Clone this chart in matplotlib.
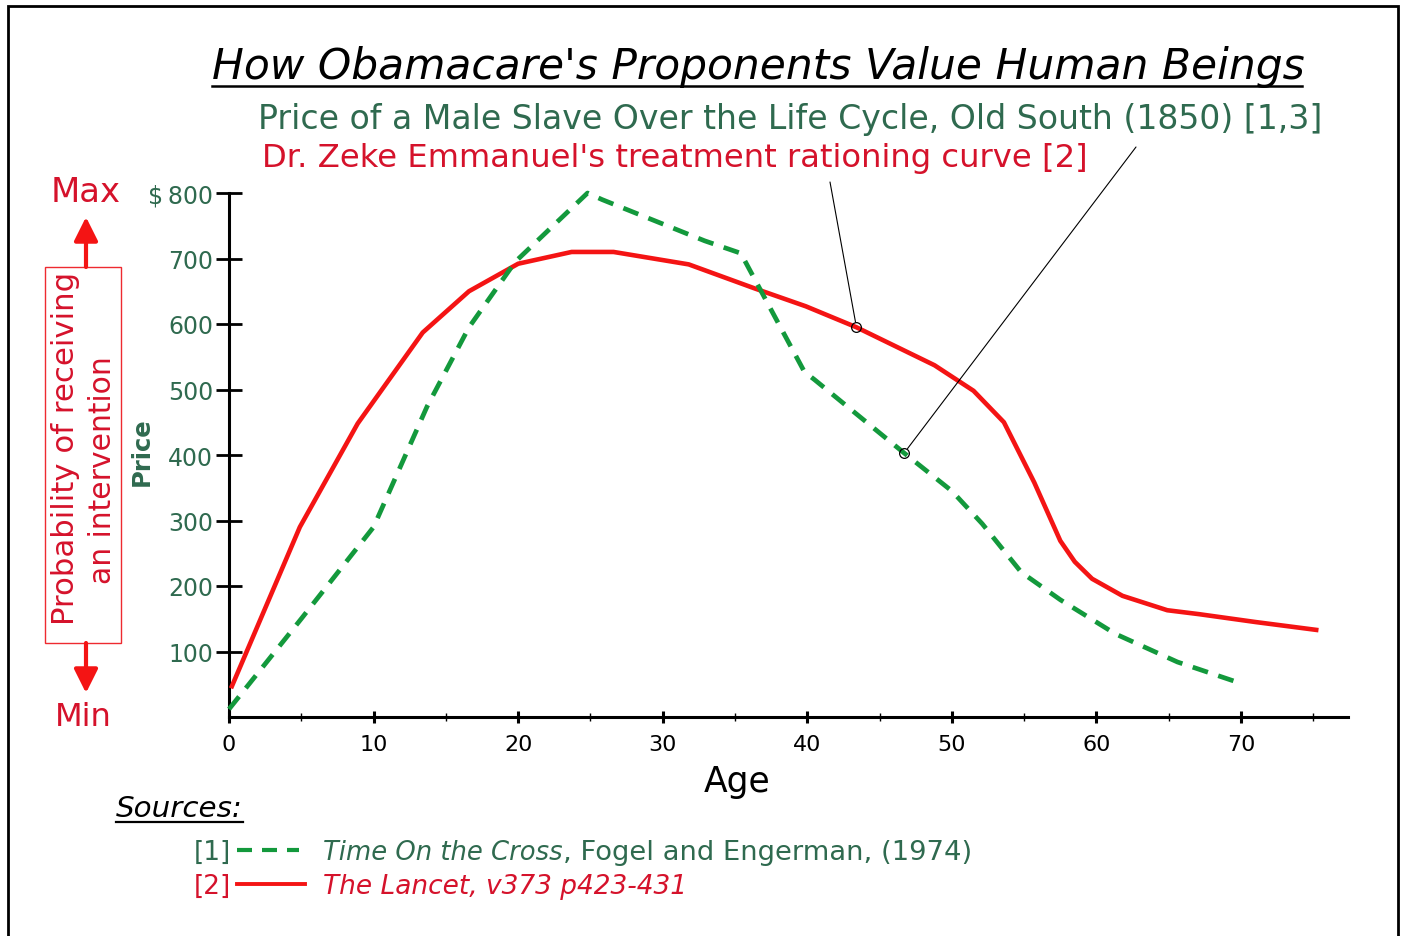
import matplotlib
matplotlib.use('Agg')
import matplotlib.pyplot as plt
from matplotlib.patches import Rectangle, FancyArrowPatch, ArrowStyle
from matplotlib.lines import Line2D

# ---------------- data ----------------
age_slave = [0, 5, 10, 13.7, 16.6, 19.8, 24.8, 25.8, 32.9, 35.4, 39.8, 40.5,
             46.7, 50.0, 52.1, 54.8, 57.5, 61.3, 65.6, 69.9]
price_slave = [12, 150, 290, 474, 595, 695, 800, 790, 727, 708, 527, 515,
               403, 345, 295, 221, 179, 127, 84, 52]

age_ration = [0.2, 4.9, 8.9, 13.4, 16.6, 20.0, 23.7, 26.6, 31.8, 36.4, 39.9,
              43.4, 48.8, 51.5, 53.6, 55.7, 57.5, 58.5, 59.7, 61.8, 64.9,
              67.1, 71.0, 75.2]
prob_ration = [47, 290, 448, 587, 650, 692, 710, 710, 691, 654, 627,
               595, 537, 498, 450, 358, 269, 237, 211, 185, 163,
               157, 145, 133]

x_ticks = [0, 10, 20, 30, 40, 50, 60, 70]
x_minor = [5, 15, 25, 35, 45, 55, 65, 75]
y_ticks = [100, 200, 300, 400, 500, 600, 700, 800]
y_labels = ['100', '200', '300', '400', '500', '600', '700', '\\$\u2009800']

pointer_red = (43.4, 595)
pointer_green = (46.7, 403)

# ---------------- style ----------------
GREEN_TXT = '#2f6a4f'
RED_TXT = '#d5122b'
RED_LINE = '#f41414'
GREEN_LINE = '#13993c'

plt.rcParams['font.family'] = ['DejaVu Sans']

W, H = 1403, 937
fig = plt.figure(figsize=(W / 100, H / 100), dpi=100)
renderer = fig.canvas.get_renderer()


def P(x, y):
    return (x / W, 1 - y / H)


def put(x, y, s, width=None, height=None, size=20, ha='left', va='baseline', **kw):
    t = fig.text(*P(x, y), s, fontsize=size, ha=ha, va=va, **kw)
    if width or height:
        bb = t.get_window_extent(renderer)
        if width:
            t.set_fontsize(size * width / bb.width)
        else:
            t.set_fontsize(size * height / bb.height)
    return t


# ---------------- axes ----------------
ax = fig.add_axes([229 / W, 1 - 718 / H, (1348 - 229) / W, (718 - 194) / H])
ax.set_xlim(0, 77.4)
ax.set_ylim(0, 800)
for s in ['top', 'right']:
    ax.spines[s].set_visible(False)
for s in ['left', 'bottom']:
    ax.spines[s].set_linewidth(2.2)
    ax.spines[s].set_color('black')

ax.plot(age_ration, prob_ration, color=RED_LINE, lw=3.3, solid_joinstyle='round',
        clip_on=False, zorder=3)
ax.plot(age_slave, price_slave, color=GREEN_LINE, lw=3.4, dashes=(3.4, 2.3),
        clip_on=False, zorder=3)

ax.set_xticks(x_ticks)
ax.set_xticks(x_minor, minor=True)
ax.set_xticklabels([str(v) for v in x_ticks])
ax.set_yticks(y_ticks)
ax.set_yticklabels(y_labels)
ax.tick_params(axis='x', which='major', direction='inout', length=8, width=2.2,
               labelsize=16, pad=8, colors='black')
ax.tick_params(axis='x', which='minor', direction='inout', length=6, width=1.0)
ax.tick_params(axis='y', which='major', direction='inout', length=19, width=2.0,
               labelsize=17, pad=2, labelcolor=GREEN_TXT, color='black')

# pointers
for (px, py), (tx, ty) in [(pointer_red, (830, 183)), (pointer_green, (1136, 148))]:
    ax.annotate('', xy=(px, py), xycoords='data',
                xytext=P(tx, ty), textcoords='figure fraction',
                arrowprops=dict(arrowstyle='-', color='black', lw=0.8,
                                shrinkA=0, shrinkB=4))
    ax.plot([px], [py], marker='o', ms=7, mfc='none', mec='black', mew=0.9,
            zorder=5, clip_on=False)

# ---------------- texts ----------------
t = put(212, 79, "How Obamacare's Proponents Value Human Beings", width=1090,
        size=30, style='italic', color='black')
fig.add_artist(Line2D([212 / W, 1302 / W], [1 - 87 / H, 1 - 87 / H],
                      color='black', lw=1.8, transform=fig.transFigure))

put(258, 129, "Price of a Male Slave Over the Life Cycle, Old South (1850) [1,3]",
    width=1065, size=24, color=GREEN_TXT)
put(262, 167, "Dr. Zeke Emmanuel's treatment rationing curve [2]",
    width=828, size=24, color=RED_TXT)

put(737, 782, "Age", width=67, size=26, ha='center', va='center', color='black')
put(142, 452, "Price", height=69, size=18, ha='center', va='center',
    rotation=90, color=GREEN_TXT, fontweight='bold')

# left probability box
fig.add_artist(Rectangle(P(45, 644), (121 - 45) / W, (644 - 268) / H,
                         transform=fig.transFigure, fill=False,
                         edgecolor='#ee2a30', lw=1.0))
put(66, 448, "Probability of receiving", height=353, size=19, ha='center',
    va='center', rotation=90, color=RED_TXT)
put(103, 470, "an intervention", height=228, size=19, ha='center',
    va='center', rotation=90, color=RED_TXT)
astyle = ArrowStyle('-|>', head_length=0.9, head_width=0.45)
for y0, y1 in [(268, 218), (644, 694)]:
    fig.add_artist(FancyArrowPatch(P(86, y0), P(86, y1), transform=fig.transFigure,
                                   arrowstyle=astyle, mutation_scale=16,
                                   color=RED_LINE, lw=3.0, shrinkA=0, shrinkB=0))
put(86, 193, "Max", width=70, size=24, ha='center', va='center', color=RED_TXT)
put(83, 717, "Min", width=57, size=24, ha='center', va='center', color=RED_TXT)

# sources
put(116, 817, "Sources:", width=127, size=20, style='italic', color='black')
fig.add_artist(Line2D([116 / W, 243 / W], [1 - 823 / H, 1 - 823 / H],
                      color='black', lw=1.6, transform=fig.transFigure))

put(194, 860, "[1]", size=19, color=GREEN_TXT)
fig.add_artist(Line2D([237 / W, 299 / W], [1 - 851 / H, 1 - 851 / H],
                      color=GREEN_LINE, lw=3.0, dashes=(3.6, 2.4),
                      transform=fig.transFigure))
t1 = put(323, 860, "Time On the Cross", width=240, size=19, style='italic',
         color=GREEN_TXT)
fs = t1.get_fontsize()
bb = t1.get_window_extent(renderer)
put(bb.x1, 860, ", Fogel and Engerman, (1974)", width=970 - bb.x1, size=fs,
    color=GREEN_TXT)

put(194, 894, "[2]", size=19, color=RED_TXT)
fig.add_artist(Line2D([237 / W, 305 / W], [1 - 885 / H, 1 - 885 / H],
                      color=RED_LINE, lw=2.8, transform=fig.transFigure))
put(323, 894, "The Lancet, v373 p423-431", width=364, size=19, style='italic',
    color=RED_TXT)

# outer frame
fig.add_artist(Rectangle(P(8, 945), (1398 - 8) / W, (945 - 7) / H,
                         transform=fig.transFigure, fill=False,
                         edgecolor='black', lw=2.0))

fig.savefig('out.png', dpi=100)
